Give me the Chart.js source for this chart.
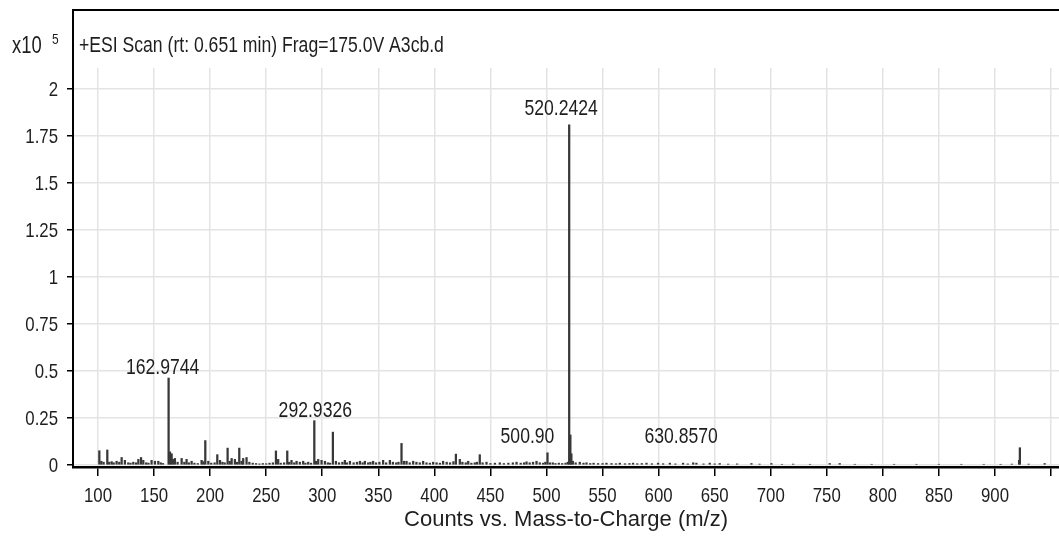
<!DOCTYPE html>
<html lang="en">
<head>
    <meta charset="UTF-8">
    <title>ESI Scan A3cb.d</title>
    <script src="https://cdn.jsdelivr.net/npm/chart.js"></script>
    <style>
        html, body { margin: 0; padding: 0; background: #fff; overflow: hidden; }
        .chart-box { width: 1059px; height: 540px; position: relative; }
    </style>
</head>
<body>
    <div class="chart-box">
        <canvas id="spectrumChart"></canvas>
    </div>

    <script>
        const scanTitle = '+ESI Scan (rt: 0.651 min) Frag=175.0V A3cb.d';
        const xAxisTitle = 'Counts vs. Mass-to-Charge (m/z)';

        // m/z of each centroid and its intensity in units of 10^5 counts
        const mzValues = [
            101.2, 103, 105, 108.3, 110, 112.2, 114, 116.6, 119, 121.1, 124, 127, 129, 131.5, 134, 136, 138.4, 140.4, 143, 145,
            147.8, 150.8, 153.8, 156, 158, 162.9744, 164.2, 165.7, 167, 168.6, 171, 174.6, 177, 179, 181, 183.5, 186, 189,
            192.4, 194, 195.7, 198.4, 201, 204, 206.4, 208.8, 211, 213, 215.6, 217.5, 219.2, 222.1, 224, 226, 228, 229.5,
            232.5, 235, 238, 241, 244, 247, 250, 253, 256, 258.7, 260.7, 263, 266, 268.8, 270.5, 272.6, 275, 277.1, 280,
            283, 285, 287.5, 290, 292.9326, 294.5, 296.4, 299.4, 302.4, 305, 307, 309.5, 312.2, 315, 318, 320.2, 322,
            324.7, 328, 331, 333.6, 336, 338, 341, 343, 345.4, 348, 351, 354.3, 357, 360.3, 363, 366, 368, 370.7, 373,
            375.2, 378, 381.1, 384, 387, 390, 393, 396, 398.9, 402, 405, 407.8, 411, 414, 417, 419.2, 422.7, 425, 428,
            430.2, 433, 436, 438, 440.5, 443, 446.5, 450, 454, 458.4, 462, 466, 470, 473.3, 477, 480, 482.2, 485, 488,
            491.1, 494, 497, 499, 500.90, 503, 505.6, 508, 511, 514, 517, 519, 520.2424, 521.3, 522.2, 523.5, 526, 529.7,
            533, 535.7, 539, 542, 546, 550, 553.5, 558, 562, 565.4, 570, 574, 577.2, 581, 585, 589.2, 594, 599.5, 604,
            610, 615, 621.8, 626, 630.8570, 633.7, 640, 645.6, 650, 654.5, 662, 670, 682.8, 690, 700.6, 710, 720, 735,
            752.6, 761.5, 775, 790, 810, 830, 850, 870, 890, 905, 915, 921.5, 922.2, 930, 944.3
        ];
        const intensities = [
            0.076, 0.02, 0.015, 0.08, 0.015, 0.018, 0.012, 0.02, 0.015, 0.04, 0.025, 0.012, 0.01, 0.015, 0.012, 0.03, 0.04, 0.025, 0.012, 0.01,
            0.025, 0.02, 0.02, 0.012, 0.008, 0.463, 0.07, 0.06, 0.03, 0.035, 0.015, 0.035, 0.015, 0.03, 0.012, 0.02, 0.01, 0.008,
            0.025, 0.018, 0.13, 0.02, 0.01, 0.012, 0.055, 0.025, 0.015, 0.012, 0.09, 0.02, 0.035, 0.03, 0.015, 0.09, 0.02, 0.035,
            0.04, 0.015, 0.01, 0.008, 0.006, 0.008, 0.007, 0.01, 0.012, 0.075, 0.03, 0.01, 0.012, 0.075, 0.015, 0.025, 0.012, 0.02, 0.015,
            0.02, 0.01, 0.015, 0.01, 0.236, 0.02, 0.03, 0.025, 0.02, 0.012, 0.01, 0.175, 0.02, 0.012, 0.015, 0.025, 0.012,
            0.02, 0.012, 0.015, 0.02, 0.012, 0.02, 0.012, 0.015, 0.02, 0.012, 0.015, 0.025, 0.012, 0.025, 0.015, 0.012, 0.015, 0.115, 0.02,
            0.02, 0.012, 0.02, 0.015, 0.012, 0.02, 0.012, 0.01, 0.015, 0.012, 0.01, 0.02, 0.015, 0.012, 0.018, 0.058, 0.03, 0.015, 0.012,
            0.02, 0.01, 0.012, 0.015, 0.055, 0.012, 0.015, 0.008, 0.01, 0.012, 0.008, 0.01, 0.012, 0.015, 0.01, 0.012, 0.017, 0.012, 0.015,
            0.02, 0.012, 0.01, 0.015, 0.065, 0.012, 0.012, 0.008, 0.01, 0.008, 0.01, 0.015, 1.81, 0.16, 0.06, 0.02, 0.012, 0.015,
            0.01, 0.012, 0.008, 0.01, 0.008, 0.008, 0.01, 0.008, 0.007, 0.01, 0.007, 0.008, 0.01, 0.007, 0.008, 0.01, 0.007, 0.01, 0.007,
            0.01, 0.006, 0.01, 0.006, 0.012, 0.01, 0.006, 0.01, 0.006, 0.008, 0.005, 0.006, 0.008, 0.005, 0.008, 0.004, 0.005, 0.004,
            0.008, 0.008, 0.004, 0.004, 0.004, 0.004, 0.004, 0.004, 0.004, 0.004, 0.005, 0.025, 0.092, 0.005, 0.008
        ];

        // annotated peaks
        const labelledMz = [162.9744, 292.9326, 500.90, 520.2424, 630.8570];
        const labelledText = ['162.9744', '292.9326', '500.90', '520.2424', '630.8570'];

        const xTickStep = 50;
        const yTickStep = 0.25;

        // label placement tweaks (px) so annotations don't sit on neighbouring sticks
        const labelShiftX = [-6, 1, -20, -8, -12];
        const labelLift = [4, 4, 0, 10, 0];

        const FONT = "'Liberation Sans', Arial, sans-serif";
        const NARROW = 0.8;
        const INK = '#1e1e1e';

        const points = mzValues.map((mz, i) => ({ x: mz, y: intensities[i] }));

        // condensed text: regular face squeezed horizontally
        function narrowText(ctx, text, x, y, size, align, squeeze = NARROW) {
            ctx.save();
            ctx.font = size + 'px ' + FONT;
            ctx.textAlign = align;
            ctx.translate(x, y);
            ctx.scale(squeeze, 1);
            ctx.fillText(text, 0, 0);
            ctx.restore();
        }

        const fmtTick = (v) => String(+v.toFixed(2));

        // frame, tick labels, header text and peak annotations
        const spectrumDecor = {
            id: 'spectrumDecor',
            afterDraw(chart) {
                const { ctx, chartArea } = chart;
                const xs = chart.scales.x;
                const ys = chart.scales.y;
                ctx.save();

                // box: left edge and top edge above the plot
                ctx.strokeStyle = '#000';
                ctx.lineWidth = 2;
                ctx.beginPath();
                ctx.moveTo(chartArea.left, chartArea.bottom);
                ctx.lineTo(chartArea.left, 10);
                ctx.lineTo(chart.width, 10);
                ctx.stroke();

                ctx.fillStyle = INK;
                ctx.textBaseline = 'middle';

                // tick labels
                ys.ticks.forEach((t) => {
                    narrowText(ctx, fmtTick(t.value), chartArea.left - 15, ys.getPixelForValue(t.value) + 1, 21, 'right');
                });
                xs.ticks.forEach((t) => {
                    if (t.value >= 950) return;
                    narrowText(ctx, fmtTick(t.value), xs.getPixelForValue(t.value), 496, 21, 'center');
                });

                // axis title and header
                narrowText(ctx, xAxisTitle, (chartArea.left + chartArea.right) / 2, 520, 22, 'center', 1);
                narrowText(ctx, scanTitle, chartArea.left + 6, 46, 22, 'left');
                narrowText(ctx, 'x10', 12, 47, 23, 'left');
                narrowText(ctx, '5', 52, 40, 15, 'left');

                // peak labels
                ctx.textBaseline = 'alphabetic';
                labelledMz.forEach((mz, i) => {
                    const h = intensities[mzValues.indexOf(mz)];
                    const px = xs.getPixelForValue(mz) + labelShiftX[i];
                    const py = Math.min(ys.getPixelForValue(h) - labelLift[i], 443);
                    narrowText(ctx, labelledText[i], px, py, 22, 'center');
                });
                ctx.restore();
            }
        };

        const ctx = document.getElementById('spectrumChart').getContext('2d');
        new Chart(ctx, {
            type: 'bar',
            data: {
                datasets: [{
                    data: points,
                    backgroundColor: '#383838',
                    borderWidth: 0,
                    barThickness: 1.6,
                    grouped: false
                }]
            },
            options: {
                responsive: true,
                maintainAspectRatio: false,
                animation: false,
                layout: { padding: { top: 68, right: 0, left: 0, bottom: 0 } },
                plugins: {
                    legend: { display: false },
                    tooltip: { enabled: false }
                },
                scales: {
                    x: {
                        type: 'linear',
                        min: 77.71,
                        max: 957.1,
                        offset: false,
                        afterFit: (scale) => { scale.height = 73; },
                        grid: {
                            color: '#e4e4e4',
                            lineWidth: 1.5,
                            tickColor: '#000',
                            tickWidth: 1.5,
                            tickLength: 9,
                            offset: false
                        },
                        border: { display: true, color: '#000', width: 2.5 },
                        ticks: {
                            display: false,
                            stepSize: xTickStep,
                            includeBounds: false,
                            autoSkip: false
                        }
                    },
                    y: {
                        min: -0.0106,
                        max: 2.113,
                        afterFit: (scale) => { scale.width = 73; },
                        grid: {
                            color: '#e4e4e4',
                            lineWidth: 1.5,
                            tickColor: '#000',
                            tickWidth: 1.5,
                            tickLength: 6
                        },
                        border: { display: false },
                        ticks: {
                            display: false,
                            stepSize: yTickStep,
                            includeBounds: false,
                            autoSkip: false
                        }
                    }
                }
            },
            plugins: [spectrumDecor]
        });
    </script>
</body>
</html>
